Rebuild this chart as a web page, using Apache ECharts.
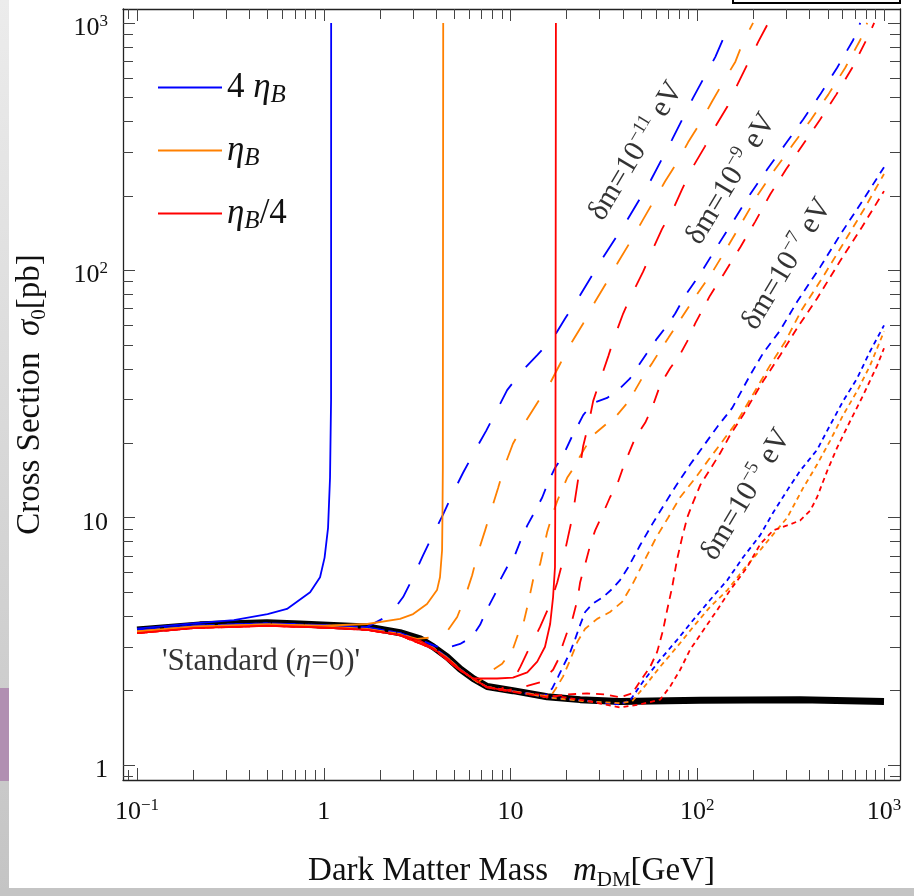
<!DOCTYPE html>
<html><head><meta charset="utf-8">
<script src="https://cdn.jsdelivr.net/npm/echarts@6/dist/echarts.min.js"></script>
<style>html,body{margin:0;padding:0;background:#fff;}#c{width:914px;height:896px;}</style>
</head><body><div id="c"></div>
<script>
// ---------- axis ranges & ticks ----------
const xRange = [0.0841, 1218];
const yRange = [0.871, 1138];
const xMajorExp = [-1, 0, 1, 2, 3];
const yMajorExp = [0, 1, 2, 3];
const minorMult = [2, 3, 4, 5, 6, 7, 8, 9];
const tickDecades = [0.01, 0.1, 1, 10, 100, 1000];

// ---------- data (mass GeV, sigma pb) ----------
const standardEta0 = [[0.1,3.52],[0.217,3.69],[0.497,3.76],[0.746,3.72],[1.71,3.62],[2.56,3.43],[3.28,3.24],[3.85,3.01],[4.57,2.74],[5.37,2.45],[6.31,2.24],[7.5,2.08],[10.3,2.0],[15.7,1.89],[23.6,1.84],[38.6,1.81],[104,1.83],[356,1.84],[1000,1.81]];

const eta4Solid = [[0.1,3.56],[0.2,3.74],[0.33,3.86],[0.5,4.08],[0.635,4.28],[0.845,5.0],[0.955,5.75],[1.01,6.9],[1.054,9.1],[1.08,14.5],[1.094,30],[1.095,1000]];
const etaSolid = [[0.1,3.47],[0.2,3.63],[0.5,3.71],[1.0,3.66],[1.71,3.72],[2.56,3.90],[3.01,4.08],[3.57,4.48],[4.04,5.10],[4.19,5.75],[4.30,7.39],[4.32,10],[4.34,15.9],[4.36,1000]];
const etaQSolid = [[0.1,3.42],[0.2,3.58],[0.5,3.66],[1,3.60],[1.71,3.52],[2.56,3.36],[3.28,3.18],[3.85,2.96],[4.57,2.70],[5.37,2.43],[6.31,2.24],[8.47,2.24],[10.3,2.26],[12.3,2.37],[13.9,2.62],[15.3,3.01],[16.3,3.72],[16.9,4.78],[17.3,6.31],[17.4,15.9],[17.5,1000]];

const eta4Dm11 = [[0.1,3.5],[0.2,3.66],[0.5,3.74],[1,3.68],[1.66,3.58],[2.26,4.05],[2.66,4.78],[3.01,5.75],[3.40,7.05],[3.85,8.57],[4.35,10.3],[4.92,12.6],[5.57,15.2],[6.46,18.7],[7.39,22.4],[8.47,27.3],[9.59,32.8],[11.5,39.1],[13.9,45.4],[16.9,53.1],[19.6,63.9],[23.0,76.9],[30.9,111],[42.2,160],[56.0,229],[73.4,338],[95.1,499],[125,729],[150,1000]];
const etaDm11 = [[0.1,3.47],[0.2,3.63],[0.5,3.71],[1,3.64],[1.71,3.55],[2.56,3.38],[3.16,3.24],[4.09,3.30],[4.63,3.52],[5.18,3.97],[5.71,4.78],[6.23,5.86],[6.70,7.25],[7.31,8.89],[7.96,11.0],[8.58,13.2],[9.35,16.4],[10.3,19.9],[12.0,24.4],[13.9,29.1],[16.3,35.0],[18.5,42.1],[21.4,51.6],[24.5,61.0],[28.4,74.8],[32.9,90.0],[37.7,108],[43.7,130],[50.7,158],[58.1,189],[67.3,229],[78.0,273],[89.3,329],[104,396],[120,481],[138,578],[160,697],[176,838],[199,1000]];
const etaQDm11 = [[0.1,3.42],[0.2,3.58],[0.5,3.66],[1,3.60],[1.71,3.52],[2.56,3.35],[3.85,2.95],[5.37,2.42],[6.31,2.22],[7.5,2.07],[8.80,2.02],[10.2,2.16],[11.3,2.50],[12.7,3.01],[14.4,3.62],[16.3,4.48],[17.8,5.49],[19.1,6.73],[20.3,8.33],[21.4,10.0],[24.5,19.5],[26.1,23.7],[27.7,29.6],[30.2,36.0],[33.4,45.0],[36.3,54.6],[40.1,66.9],[44.8,80.5],[51.3,98.7],[57.3,120],[64.8,147],[74.3,177],[83.0,213],[95.1,263],[110,317],[125,381],[145,459],[164,563],[185,677],[212,838],[240,1000]];

const eta4Dm9 = [[0.1,3.5],[0.2,3.66],[0.5,3.74],[1,3.68],[1.71,3.60],[2.56,3.42],[3.49,3.15],[4.35,2.95],[5.37,3.09],[6.23,3.30],[6.87,3.69],[7.50,4.28],[8.27,4.92],[8.80,5.60],[9.71,6.43],[10.6,7.12],[11.5,8.33],[12.3,9.31],[13.6,10.7],[14.8,12.1],[15.9,13.9],[17.3,15.9],[19.1,17.8],[21.4,21.4],[23.0,23.7],[24.5,26.0],[27.7,29.1],[32.9,30.5],[38.6,33.4],[43.7,36.6],[49.4,42.1],[54.6,47.1],[61.0,53.1],[69.0,59.9],[76.2,66.9],[86.1,79.0],[104,96.9],[127,124],[155,157],[192,203],[237,256],[296,323],[369,407],[455,513],[561,659],[684,853],[746,1000]];
const etaDm9 = [[0.1,3.47],[0.2,3.63],[0.5,3.71],[1,3.64],[1.71,3.55],[2.56,3.39],[3.85,2.98],[4.57,2.72],[5.37,2.44],[6.70,2.16],[7.78,2.39],[9.02,2.57],[10.3,2.95],[11.0,3.40],[11.7,3.72],[12.4,4.48],[13.2,5.60],[14.4,6.49],[15.7,8.73],[16.7,10.2],[17.8,11.7],[18.9,13.0],[20.1,14.5],[21.4,15.6],[22.8,17.0],[25.1,19.2],[27.7,21.6],[32.1,23.7],[37.2,26.0],[42.2,29.1],[46.5,32.8],[51.3,37.3],[57.3,42.1],[63.3,47.5],[69.8,53.1],[82.0,63.9],[98.6,79.0],[119,96.9],[145,124],[174,157],[212,203],[261,256],[326,323],[407,407],[503,513],[620,659],[746,853],[813,1000]];
const etaQDm9 = [[0.1,3.42],[0.2,3.58],[0.5,3.66],[1,3.60],[1.71,3.52],[2.56,3.35],[3.85,2.95],[5.37,2.42],[7.5,2.06],[9.35,2.00],[12.0,2.08],[14.4,2.16],[16.9,2.43],[18.0,2.67],[19.1,3.09],[20.3,3.52],[21.4,3.86],[22.8,4.65],[23.6,5.49],[25.1,6.49],[26.7,7.74],[28.4,8.89],[30.9,10.2],[34.1,12.1],[37.2,13.6],[40.6,16.4],[46.5,21.0],[52.6,24.2],[57.3,27.8],[63.3,34.4],[71.6,40.2],[81.0,45.8],[88.3,51.6],[97.5,61.0],[117,79.0],[139,96.9],[170,124],[204,157],[246,203],[299,256],[369,323],[455,407],[555,513],[676,659],[804,853],[886,1000]];

const eta4Dm7 = [[0.1,3.5],[0.2,3.66],[0.5,3.74],[1,3.68],[1.71,3.60],[2.56,3.42],[3.85,3.0],[4.57,2.73],[5.37,2.44],[6.31,2.23],[7.5,2.07],[10.3,1.99],[15.3,1.91],[16.7,2.04],[18.0,2.28],[19.1,2.50],[20.9,2.87],[22.2,3.24],[23.6,3.69],[25.1,4.16],[27.4,4.48],[31.3,4.78],[35.0,5.15],[38.6,5.60],[42.7,6.31],[49.4,7.74],[57.3,9.40],[66.5,11.3],[77.1,13.5],[91.6,16.4],[108,19.5],[129,23.5],[154,27.8],[192,37.7],[225,46.2],[278,57.2],[343,74.8],[455,103],[582,139],[764,190],[1000,261]];
const etaDm7 = [[0.1,3.47],[0.2,3.63],[0.5,3.71],[1,3.64],[1.71,3.55],[2.56,3.39],[3.85,2.98],[4.57,2.72],[5.37,2.44],[6.31,2.23],[7.5,2.07],[10.3,1.99],[16.3,1.89],[17.5,2.04],[19.1,2.28],[20.9,2.67],[22.8,3.15],[25.1,3.56],[29.1,3.90],[34.1,4.16],[39.6,4.57],[44.8,5.35],[52.6,6.80],[60.3,8.33],[69.8,10.0],[81.0,12.1],[97.8,14.5],[116,17.3],[138,20.6],[164,24.6],[205,32.8],[244,41.0],[296,51.6],[361,68.8],[479,96.0],[612,130],[783,177],[1000,245]];
const etaQDm7 = [[0.1,3.42],[0.2,3.58],[0.5,3.66],[1,3.60],[1.71,3.52],[2.56,3.35],[3.85,2.95],[5.37,2.42],[7.5,2.06],[10.3,1.98],[15.7,1.88],[20.1,1.93],[25.7,1.95],[32.1,1.93],[38.6,1.88],[44.8,1.95],[49.4,2.18],[56.0,2.50],[61.0,2.87],[65.6,3.52],[69.0,4.24],[73.4,5.25],[78.0,6.80],[83.0,8.33],[88.3,10.0],[93.9,11.3],[104,13.6],[116,15.5],[133,18.3],[150,21.6],[176,26.0],[199,30.5],[225,35.6],[278,45.4],[347,59.3],[438,76.9],[582,109],[764,150],[1000,209]];

const eta4Dm5 = [[0.1,3.5],[0.2,3.66],[0.5,3.74],[1,3.68],[1.71,3.60],[2.56,3.42],[3.85,3.0],[4.57,2.73],[5.37,2.44],[6.31,2.23],[7.5,2.07],[10.3,1.99],[15.7,1.88],[23.6,1.83],[38.6,1.76],[43.7,1.83],[51.3,2.18],[63.3,2.67],[78.0,3.21],[95.1,3.86],[117,4.65],[145,5.60],[176,6.92],[217,8.49],[255,10.5],[303,12.9],[356,15.5],[438,18.8],[515,23.7],[604,29.6],[718,36.6],[843,47.1],[1000,59.9]];
const etaDm5 = [[0.1,3.47],[0.2,3.63],[0.5,3.71],[1,3.64],[1.71,3.55],[2.56,3.39],[3.85,2.98],[4.57,2.72],[5.37,2.44],[6.31,2.23],[7.5,2.07],[10.3,1.99],[15.7,1.88],[23.6,1.82],[38.6,1.78],[44.8,1.81],[53.8,2.14],[63.3,2.50],[78.0,3.01],[95.1,3.62],[117,4.36],[145,5.10],[176,6.14],[217,7.39],[255,8.57],[303,10.0],[369,13.2],[438,16.4],[515,20.5],[604,26.0],[718,32.5],[843,41.3],[1000,56.6]];
const etaQDm5 = [[0.1,3.42],[0.2,3.58],[0.5,3.66],[1,3.60],[1.71,3.52],[2.56,3.35],[3.85,2.95],[5.37,2.42],[7.5,2.06],[10.3,1.98],[18.5,1.89],[26.7,1.81],[38.6,1.71],[49.4,1.76],[63.3,1.84],[71.6,2.08],[81.0,2.43],[91.6,2.93],[108,3.52],[128,4.24],[150,5.10],[185,6.31],[217,7.81],[255,8.89],[303,9.31],[356,9.75],[403,10.7],[438,12.1],[497,15.5],[561,19.2],[659,24.6],[774,31.3],[920,41.3],[1000,48.4]];

const legendNames = ['4 ηB', 'ηB', 'ηB/4'];
const annotations = [
  { pos: [47.1, 303], exp: '\u221211' },
  { pos: [152, 234], exp: '\u22129' },
  { pos: [303, 106], exp: '\u22127' },
  { pos: [183, 12.4], exp: '\u22125' }
];
const standardLabelPos = [0.136, 2.62];

// ---------- styles ----------
const FONT = 'Liberation Serif';
const COL = { blue: '#0000ff', orange: '#ff8000', red: '#ff0000' };
const DASH = { dm11: [23, 22], dm9: [14, 15], dm7: [8, 6], dm5: [5, 4] };
const W = 1.8;

function line(name, data, color, dash, width, z) {
  return {
    name, type: 'line', data, xAxisIndex: 0, yAxisIndex: 0,
    showSymbol: false, symbol: 'none', silent: true, z: z,
    lineStyle: { color, width: width, type: dash || 'solid', cap: 'butt' },
    itemStyle: { color }
  };
}

const series = [
  line('Standard', standardEta0, '#000', null, 7, 1),
  line('b5', eta4Dm5, COL.blue, DASH.dm5, W, 2),
  line('o5', etaDm5, COL.orange, DASH.dm5, W, 2),
  line('r5', etaQDm5, COL.red, DASH.dm5, W, 2),
  line('b7', eta4Dm7, COL.blue, DASH.dm7, W, 2),
  line('o7', etaDm7, COL.orange, DASH.dm7, W, 2),
  line('r7', etaQDm7, COL.red, DASH.dm7, W, 2),
  line('b9', eta4Dm9, COL.blue, DASH.dm9, W, 2),
  line('o9', etaDm9, COL.orange, DASH.dm9, W, 2),
  line('r9', etaQDm9, COL.red, DASH.dm9, W, 2),
  line('b11', eta4Dm11, COL.blue, DASH.dm11, W, 2),
  line('o11', etaDm11, COL.orange, DASH.dm11, W, 2),
  line('r11', etaQDm11, COL.red, DASH.dm11, W, 2),
  line(legendNames[0], eta4Solid, COL.blue, null, W, 3),
  line(legendNames[1], etaSolid, COL.orange, null, W, 3),
  line(legendNames[2], etaQSolid, COL.red, null, W, 3)
];

const annRich = {
  t: { fontFamily: FONT, fontSize: 30, color: '#000', lineHeight: 36 },
  i: { fontFamily: FONT, fontSize: 30, fontStyle: 'italic', color: '#000', lineHeight: 36 },
  s: { fontFamily: FONT, fontSize: 19, color: '#000', verticalAlign: 'top', lineHeight: 20 }
};
const stdRich = {
  t: { fontFamily: FONT, fontSize: 31, color: '#000', lineHeight: 36 },
  i: { fontFamily: FONT, fontSize: 31, fontStyle: 'italic', color: '#000', lineHeight: 36 }
};
series.push({
  type: 'scatter', xAxisIndex: 0, yAxisIndex: 0, symbolSize: 0, silent: true, z: 10,
  data: annotations.map(a => ({
    value: a.pos,
    label: { show: true, position: 'inside', rotate: 59, formatter: '{t|\u03b4m=10}{s|' + a.exp + '}{t| eV}', rich: annRich }
  })).concat([{
    value: standardLabelPos,
    label: { show: true, position: 'right', distance: 0, rotate: 0, formatter: "{t|'Standard (}{i|\u03b7}{t|=0)'}", rich: stdRich }
  }])
});

// ---------- axes ----------
const L = Math.log10;
function minorTickValues(range) {
  const out = [];
  tickDecades.forEach(d => minorMult.forEach(m => {
    const v = m * d;
    if (v >= range[0] && v <= range[1]) out.push(L(v));
  }));
  return out;
}
function powLabel(v) {
  const e = Math.round(v);
  if (e === 0) return '{b|1}';
  if (e === 1) return '{b|10}';
  return '{b|10}{s|' + (e < 0 ? '\u2212' : '') + Math.abs(e) + '}';
}
const labRich = {
  b: { fontFamily: FONT, fontSize: 26, color: '#111', lineHeight: 30 },
  s: { fontFamily: FONT, fontSize: 17, color: '#111', verticalAlign: 'top', lineHeight: 17 }
};
const axLine = { show: true, onZero: false, lineStyle: { color: '#222', width: 1.3 } };
const tkStyle = { color: '#444', width: 1 };
function nameRich(sz, subRatio) {
  const r = subRatio || 0.63;
  return {
    t: { fontFamily: FONT, fontSize: sz, color: '#111', lineHeight: sz + 6 },
    i: { fontFamily: FONT, fontSize: sz, fontStyle: 'italic', color: '#111', lineHeight: sz + 6 },
    sub: { fontFamily: FONT, fontSize: Math.round(sz * r), fontStyle: 'italic', color: '#111', verticalAlign: 'bottom', lineHeight: Math.round(sz * 0.45) },
    rsub: { fontFamily: FONT, fontSize: Math.round(sz * r), color: '#111', verticalAlign: 'bottom', lineHeight: Math.round(sz * 0.45) }
  };
}

function deco(pos, range, major, len, isMajor, withLabels, extra) {
  const isY = (pos === 'left' || pos === 'right');
  const a = {
    type: 'value', position: pos, min: L(range[0]), max: L(range[1]),
    axisLine: isMajor ? axLine : { show: false, onZero: false },
    axisTick: { show: true, inside: true, length: len, customValues: isMajor ? major : minorTickValues(range), lineStyle: tkStyle },
    axisLabel: withLabels ? { show: true, customValues: major, formatter: powLabel, rich: labRich,
      margin: isY ? 15 : 17, padding: isY ? [10, 0, 0, 0] : 0 } : { show: false },
    splitLine: { show: false }, splitArea: { show: false }, axisPointer: { show: false }
  };
  return Object.assign(a, extra || {});
}

const option = {
  animation: false,
  backgroundColor: '#fff',
  textStyle: { fontFamily: FONT },
  grid: { left: 123, right: 14, top: 9, bottom: 112, containLabel: false },
  legend: {
    data: legendNames, orient: 'vertical', left: 158, top: 70, padding: 0,
    icon: 'rect', itemWidth: 64, itemHeight: 2, itemGap: 25, selectedMode: false,
    formatter: n => n.replace('ηB', '{i|η}{sub|B}').replace(/^([^{]+)(?=\{)/, '{t|$1}').replace('}/4', '}{t|/4}'),
    textStyle: { rich: nameRich(35, 0.7), fontFamily: FONT, fontSize: 35, color: '#111' }
  },
  xAxis: [
    { type: 'log', logBase: 10, min: xRange[0], max: xRange[1], show: false },
    deco('bottom', xRange, xMajorExp, 12, true, true, {
      name: '{t|Dark Matter Mass   }{i|m}{rsub|DM}{t|[GeV]}', nameLocation: 'middle', nameGap: 72,
      nameTextStyle: { rich: nameRich(33), fontFamily: FONT, fontSize: 33, color: '#111' }
    }),
    deco('bottom', xRange, xMajorExp, 10, false, false),
    deco('top', xRange, xMajorExp, 12, true, false),
    deco('top', xRange, xMajorExp, 10, false, false)
  ],
  yAxis: [
    { type: 'log', logBase: 10, min: yRange[0], max: yRange[1], show: false },
    deco('left', yRange, yMajorExp, 12, true, true, {
      name: '{t|Cross Section  }{i|σ}{rsub|0}{t|[pb]}', nameLocation: 'middle', nameGap: 73, nameRotate: 90,
      nameTextStyle: { rich: nameRich(33), fontFamily: FONT, fontSize: 33, color: '#111' }
    }),
    deco('left', yRange, yMajorExp, 10, false, false),
    deco('right', yRange, yMajorExp, 12, true, false),
    deco('right', yRange, yMajorExp, 10, false, false)
  ],
  series: series,
  graphic: [
    { type: 'rect', z: -10, shape: { x: 0, y: 0, width: 9, height: 896 },
      style: { fill: new echarts.graphic.LinearGradient(0, 0, 0, 1, [{ offset: 0, color: '#ececec' }, { offset: 1, color: '#c4c4c4' }]) } },
    { type: 'rect', z: -9, shape: { x: 0, y: 688, width: 9, height: 93 }, style: { fill: '#b18fb2' } },
    { type: 'rect', z: -9, shape: { x: 0, y: 888, width: 914, height: 8 }, style: { fill: '#c4c4c4' } },
    { type: 'rect', z: -9, shape: { x: 733, y: -6, width: 167, height: 9 }, style: { fill: '#fff', stroke: '#000', lineWidth: 2 } }
  ]
};

const chart = echarts.init(document.getElementById('c'));
chart.setOption(option);
</script>
</body></html>
